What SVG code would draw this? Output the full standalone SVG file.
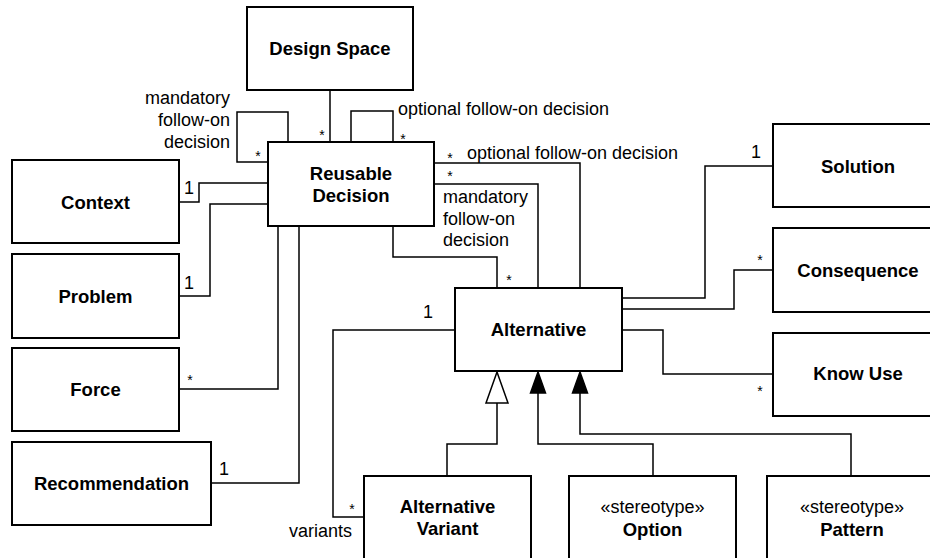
<svg xmlns="http://www.w3.org/2000/svg" width="930" height="558" viewBox="0 0 930 558">
<style>
.box{fill:#fff;stroke:#000;stroke-width:2}
.cn{fill:none;stroke:#000;stroke-width:1.5}
.t{font-family:"Liberation Sans",Arial,sans-serif;font-size:18px;fill:#000}
.b{font-family:"Liberation Sans",Arial,sans-serif;font-size:18.5px;font-weight:bold;fill:#000;text-anchor:middle}
.s{font-family:"Liberation Sans",Arial,sans-serif;font-size:14px;fill:#000;text-anchor:middle}
.m{text-anchor:middle}
.e{text-anchor:end}
</style>
<rect width="930" height="558" fill="#fff"/>
<g id="connectors">
<path class="cn" d="M330 90V142"/>
<path class="cn" d="M268 162H237V112H288V142"/>
<path class="cn" d="M351 142V111H393V142"/>
<path class="cn" d="M179 202H199V183H268"/>
<path class="cn" d="M179 296H210V204H268"/>
<path class="cn" d="M179 389H278V226"/>
<path class="cn" d="M211 483H299V226"/>
<path class="cn" d="M393 226V257H497V288"/>
<path class="cn" d="M434 163H580V288"/>
<path class="cn" d="M434 184H538V288"/>
<path class="cn" d="M622 298H705V166H773"/>
<path class="cn" d="M622 309H734V270H773"/>
<path class="cn" d="M622 330H663V374H773"/>
<path class="cn" d="M455 330H333V517H364"/>
<path class="cn" d="M497 403V444H447V476"/>
<path class="cn" d="M538 393V444H653V476"/>
<path class="cn" d="M580 393V434H851V476"/>
<polygon points="497,372 486,403 508,403" fill="#fff" stroke="#000" stroke-width="1.5"/>
<polygon points="538,372 530.5,393 545.5,393" fill="#000" stroke="#000" stroke-width="1.5"/>
<polygon points="580,372 572.5,393 587.5,393" fill="#000" stroke="#000" stroke-width="1.5"/>
<text class="s" x="322" y="140">*</text>
<text class="s" x="258" y="161">*</text>
<text class="s" x="403" y="144">*</text>
<text class="s" x="450" y="163">*</text>
<text class="s" x="450" y="181">*</text>
<text class="s" x="509" y="285">*</text>
<text class="s" x="190" y="385">*</text>
<text class="s" x="760" y="265">*</text>
<text class="s" x="760" y="396">*</text>
<text class="s" x="352" y="514">*</text>
<text class="t m" x="189" y="194">1</text>
<text class="t m" x="189" y="289">1</text>
<text class="t m" x="224" y="475">1</text>
<text class="t m" x="756" y="158">1</text>
<text class="t m" x="428" y="318">1</text>
<text class="t e" x="230" y="104">mandatory</text>
<text class="t e" x="230" y="126">follow-on</text>
<text class="t e" x="230" y="148">decision</text>
<text class="t" x="398" y="115">optional follow-on decision</text>
<text class="t" x="467" y="159">optional follow-on decision</text>
<text class="t" x="443" y="203">mandatory</text>
<text class="t" x="443" y="225">follow-on</text>
<text class="t" x="443" y="246">decision</text>
<text class="t e" x="352" y="537">variants</text>
</g>
<g id="design-space"><rect class="box" x="247" y="7" width="166" height="83"/><text class="b" x="330" y="55">Design Space</text></g>
<g id="reusable-decision"><rect class="box" x="268" y="142" width="166" height="84"/><text class="b" x="351" y="180">Reusable</text><text class="b" x="351" y="202">Decision</text></g>
<g id="context"><rect class="box" x="12" y="160" width="167" height="83"/><text class="b" x="95.5" y="209">Context</text></g>
<g id="problem"><rect class="box" x="12" y="254" width="167" height="84"/><text class="b" x="95.5" y="303">Problem</text></g>
<g id="force"><rect class="box" x="12" y="348" width="167" height="83"/><text class="b" x="95.5" y="396">Force</text></g>
<g id="recommendation"><rect class="box" x="12" y="442" width="199" height="83"/><text class="b" x="111.5" y="490">Recommendation</text></g>
<g id="alternative"><rect class="box" x="455" y="288" width="167" height="83"/><text class="b" x="538.5" y="336">Alternative</text></g>
<g id="solution"><rect class="box" x="773" y="124" width="170" height="83"/><text class="b" x="858" y="173">Solution</text></g>
<g id="consequence"><rect class="box" x="773" y="228" width="170" height="84"/><text class="b" x="858" y="277">Consequence</text></g>
<g id="know-use"><rect class="box" x="773" y="333" width="170" height="83"/><text class="b" x="858" y="380">Know Use</text></g>
<g id="alternative-variant"><rect class="box" x="364" y="476" width="167" height="100"/><text class="b" x="447.5" y="513">Alternative</text><text class="b" x="447.5" y="535">Variant</text></g>
<g id="option"><rect class="box" x="569" y="476" width="167" height="100"/><text class="t m" x="652.5" y="513">«stereotype»</text><text class="b" x="652.5" y="536">Option</text></g>
<g id="pattern"><rect class="box" x="767" y="476" width="170" height="100"/><text class="t m" x="852" y="513">«stereotype»</text><text class="b" x="852" y="536">Pattern</text></g>
</svg>
